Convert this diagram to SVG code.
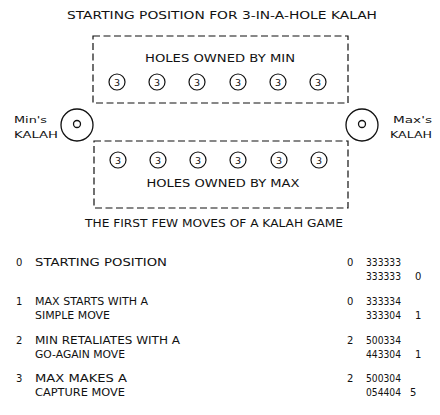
<svg xmlns="http://www.w3.org/2000/svg" width="440" height="415" viewBox="0 0 440 415">
<style>
text{font-family:"DejaVu Sans","Liberation Sans",sans-serif;fill:#111;}
.t{font-size:10px;}
.s{font-size:9.5px;}
.n{font-size:9.5px;text-anchor:middle;}
.box{fill:none;stroke:#111;stroke-width:1.2;stroke-dasharray:7 3.5;}
.hole{fill:#fff;stroke:#111;stroke-width:1.2;}
.kal{fill:#fff;stroke:#111;stroke-width:1.3;}
.m{text-anchor:middle;}
</style>
<rect width="440" height="415" fill="#fff"/>
<text class="t m" x="222" y="19" textLength="310" lengthAdjust="spacingAndGlyphs">STARTING POSITION FOR 3-IN-A-HOLE KALAH</text>

<g id="min-holes">
<rect class="box" x="93" y="36" width="255" height="67"/>
<text class="t m" x="220" y="62" textLength="150" lengthAdjust="spacingAndGlyphs">HOLES OWNED BY MIN</text>
<circle class="hole" cx="117" cy="82" r="8"/><text class="n" x="117" y="85.5">3</text>
<circle class="hole" cx="157" cy="82" r="8"/><text class="n" x="157" y="85.5">3</text>
<circle class="hole" cx="197" cy="82" r="8"/><text class="n" x="197" y="85.5">3</text>
<circle class="hole" cx="238" cy="82" r="8"/><text class="n" x="238" y="85.5">3</text>
<circle class="hole" cx="278" cy="82" r="8"/><text class="n" x="278" y="85.5">3</text>
<circle class="hole" cx="318" cy="82" r="8"/><text class="n" x="318" y="85.5">3</text>
</g>

<g id="min-kalah">
<circle class="kal" cx="77" cy="125" r="16"/>
<circle class="kal" cx="77" cy="124" r="3.5"/>
<text class="s" x="14" y="123" textLength="33" lengthAdjust="spacingAndGlyphs">Min's</text>
<text class="s" x="14" y="138" textLength="44" lengthAdjust="spacingAndGlyphs">KALAH</text>
</g>

<g id="max-kalah">
<circle class="kal" cx="362" cy="125" r="16"/>
<circle class="kal" cx="362" cy="124" r="3.5"/>
<text class="s" x="393" y="123" textLength="39" lengthAdjust="spacingAndGlyphs">Max's</text>
<text class="s" x="390" y="138" textLength="42" lengthAdjust="spacingAndGlyphs">KALAH</text>
</g>

<g id="max-holes">
<rect class="box" x="94" y="141" width="254" height="67"/>
<circle class="hole" cx="118" cy="160" r="8"/><text class="n" x="118" y="163.5">3</text>
<circle class="hole" cx="158" cy="160" r="8"/><text class="n" x="158" y="163.5">3</text>
<circle class="hole" cx="198" cy="160" r="8"/><text class="n" x="198" y="163.5">3</text>
<circle class="hole" cx="238" cy="160" r="8"/><text class="n" x="238" y="163.5">3</text>
<circle class="hole" cx="279" cy="160" r="8"/><text class="n" x="279" y="163.5">3</text>
<circle class="hole" cx="319" cy="160" r="8"/><text class="n" x="319" y="163.5">3</text>
<text class="t m" x="223" y="187" textLength="153" lengthAdjust="spacingAndGlyphs">HOLES OWNED BY MAX</text>
</g>

<g id="connectors"></g>

<text class="t m" x="214" y="227" textLength="258" lengthAdjust="spacingAndGlyphs">THE FIRST FEW MOVES OF A KALAH GAME</text>

<g id="table" class="t">
<text x="16" y="266">0</text>
<text x="35" y="266" textLength="132" lengthAdjust="spacingAndGlyphs">STARTING POSITION</text>
<text x="347" y="266">0</text>
<text x="366" y="266" textLength="35" lengthAdjust="spacingAndGlyphs">333333</text>
<text x="366" y="280" textLength="35" lengthAdjust="spacingAndGlyphs">333333</text>
<text x="415" y="280">0</text>

<text x="16" y="305">1</text>
<text x="35" y="305" textLength="113" lengthAdjust="spacingAndGlyphs">MAX STARTS WITH A</text>
<text x="35" y="319" textLength="75" lengthAdjust="spacingAndGlyphs">SIMPLE MOVE</text>
<text x="347" y="305">0</text>
<text x="366" y="305" textLength="35" lengthAdjust="spacingAndGlyphs">333334</text>
<text x="366" y="319" textLength="35" lengthAdjust="spacingAndGlyphs">333304</text>
<text x="415" y="319">1</text>

<text x="16" y="344">2</text>
<text x="35" y="344" textLength="145" lengthAdjust="spacingAndGlyphs">MIN RETALIATES WITH A</text>
<text x="35" y="358" textLength="90" lengthAdjust="spacingAndGlyphs">GO-AGAIN MOVE</text>
<text x="347" y="344">2</text>
<text x="366" y="344" textLength="35" lengthAdjust="spacingAndGlyphs">500334</text>
<text x="366" y="358" textLength="35" lengthAdjust="spacingAndGlyphs">443304</text>
<text x="415" y="358">1</text>

<text x="16" y="382">3</text>
<text x="35" y="382" textLength="92" lengthAdjust="spacingAndGlyphs">MAX MAKES A</text>
<text x="35" y="396" textLength="90" lengthAdjust="spacingAndGlyphs">CAPTURE MOVE</text>
<text x="347" y="382">2</text>
<text x="366" y="382" textLength="35" lengthAdjust="spacingAndGlyphs">500304</text>
<text x="366" y="396" textLength="35" lengthAdjust="spacingAndGlyphs">054404</text>
<text x="410" y="396">5</text>
</g>
</svg>
